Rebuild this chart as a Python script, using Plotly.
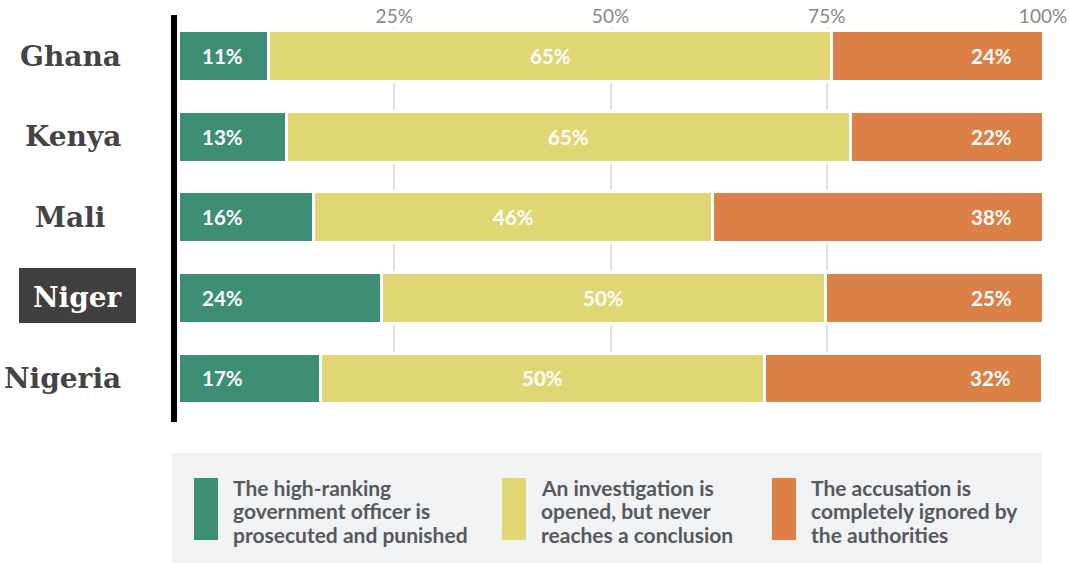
import plotly.graph_objects as go

# ---- data ----
countries = ["Ghana", "Kenya", "Mali", "Niger", "Nigeria"]
series_names = [
    "The high-ranking<br>government officer is<br>prosecuted and punished",
    "An investigation is<br>opened, but never<br>reaches a conclusion",
    "The accusation is<br>completely ignored by<br>the authorities",
]
prosecuted = [10.5, 12.6, 15.7, 23.5, 16.5]
investigation = [65.1, 65.2, 46.1, 51.4, 51.3]
ignored = [24.4, 22.2, 38.2, 25.1, 32.1]
prosecuted_lbl = [11, 13, 16, 24, 17]
investigation_lbl = [65, 65, 46, 50, 50]
ignored_lbl = [24, 22, 38, 25, 32]
tick_vals = [25, 50, 75, 100]
tick_text = ["25%", "50%", "75%", "100%"]
highlight = "Niger"

# ---- style ----
W, H = 1069, 563
L, R, T, B = 178, 26, 28, 158
PW, PH = W - L - R, H - T - B
colors = ["#3d8e75", "#e1d674", "#db8046"]
label_font = "Lato, 'Open Sans', sans-serif"
name_font = "'DejaVu Serif', serif"


def px_x(px):
    return (px - L) / PW


def px_y(py):
    return (H - B - py) / PH


fig = go.Figure()
for vals, col, nm in zip([prosecuted, investigation, ignored], colors, series_names):
    fig.add_trace(go.Bar(
        y=countries, x=vals, orientation="h", name=nm,
        marker=dict(color=col, line=dict(color="white", width=3)),
        hoverinfo="skip", showlegend=False,
    ))

ann = []
bar_font = dict(family=label_font, size=20.5, color="white")
for i, c in enumerate(countries):
    ann.append(dict(x=0, y=c, xref="x", yref="y", text=f"<b>{prosecuted_lbl[i]}%</b>",
                    xanchor="left", xshift=22, showarrow=False, font=bar_font))
    ann.append(dict(x=prosecuted[i] + investigation[i] / 2, y=c, xref="x", yref="y",
                    text=f"<b>{investigation_lbl[i]}%</b>", xanchor="center",
                    showarrow=False, font=bar_font))
    ann.append(dict(x=prosecuted[i] + investigation[i] + ignored[i], y=c, xref="x", yref="y",
                    text=f"<b>{ignored_lbl[i]}%</b>", xanchor="right", xshift=-29,
                    showarrow=False, font=bar_font))

# country names
name_pos = {"Ghana": (123, "right"), "Kenya": (123, "right"), "Mali": (107, "right"),
            "Niger": (77.5, "center"), "Nigeria": (123, "right")}
shapes = []
for c in countries:
    is_hl = c == highlight
    xp, anc = name_pos[c]
    ann.append(dict(x=px_x(xp), y=c, xref="paper", yref="y",
                    text=f"<b>{c}</b>", xanchor=anc, showarrow=False,
                    font=dict(family=name_font, size=28, color="white" if is_hl else "#444444")))
# highlight box
shapes.append(dict(type="rect", xref="paper", yref="paper",
                   x0=px_x(19), x1=px_x(136), y0=px_y(323), y1=px_y(268),
                   fillcolor="#404040", line=dict(width=0), layer="below"))

# black axis line
shapes.append(dict(type="line", xref="paper", yref="paper",
                   x0=px_x(174), x1=px_x(174), y0=px_y(422), y1=px_y(15),
                   line=dict(color="black", width=6)))

# legend box
shapes.append(dict(type="rect", xref="paper", yref="paper",
                   x0=px_x(172), x1=px_x(1042), y0=px_y(563), y1=px_y(453),
                   fillcolor="#f1f2f4", line=dict(width=0), layer="below"))
leg_x = [194, 502, 772]
line_y = [487, 510.5, 534]
for lx, col, nm in zip(leg_x, colors, series_names):
    shapes.append(dict(type="rect", xref="paper", yref="paper",
                       x0=px_x(lx), x1=px_x(lx + 24), y0=px_y(540), y1=px_y(478),
                       fillcolor=col, line=dict(width=0)))
    for ly, part in zip(line_y, nm.split("<br>")):
        ann.append(dict(x=px_x(lx + 37), y=px_y(ly), xref="paper", yref="paper",
                        text=f"<b>{part}</b>", xanchor="left", yanchor="middle", align="left",
                        showarrow=False,
                        font=dict(family=label_font, size=21, color="#55595e")))

fig.update_layout(
    width=W, height=H,
    margin=dict(l=L, r=R, t=T, b=B, pad=0, autoexpand=False),
    barmode="stack", bargap=0.37,
    plot_bgcolor="white", paper_bgcolor="white",
    xaxis=dict(range=[0, 100], side="top", tickvals=tick_vals, ticktext=tick_text,
               showgrid=True, gridcolor="#e0e0e0", gridwidth=1.5, zeroline=False,
               showline=False, ticks="", fixedrange=True, automargin=False,
               tickfont=dict(family=label_font, size=19, color="#888888")),
    yaxis=dict(type="category", range=[4.33, -0.35], showticklabels=False,
               showgrid=False, zeroline=False, showline=False, fixedrange=True,
               automargin=False),
    annotations=ann, shapes=shapes,
)

fig.write_html("out.html", config={"displayModeBar": False})
